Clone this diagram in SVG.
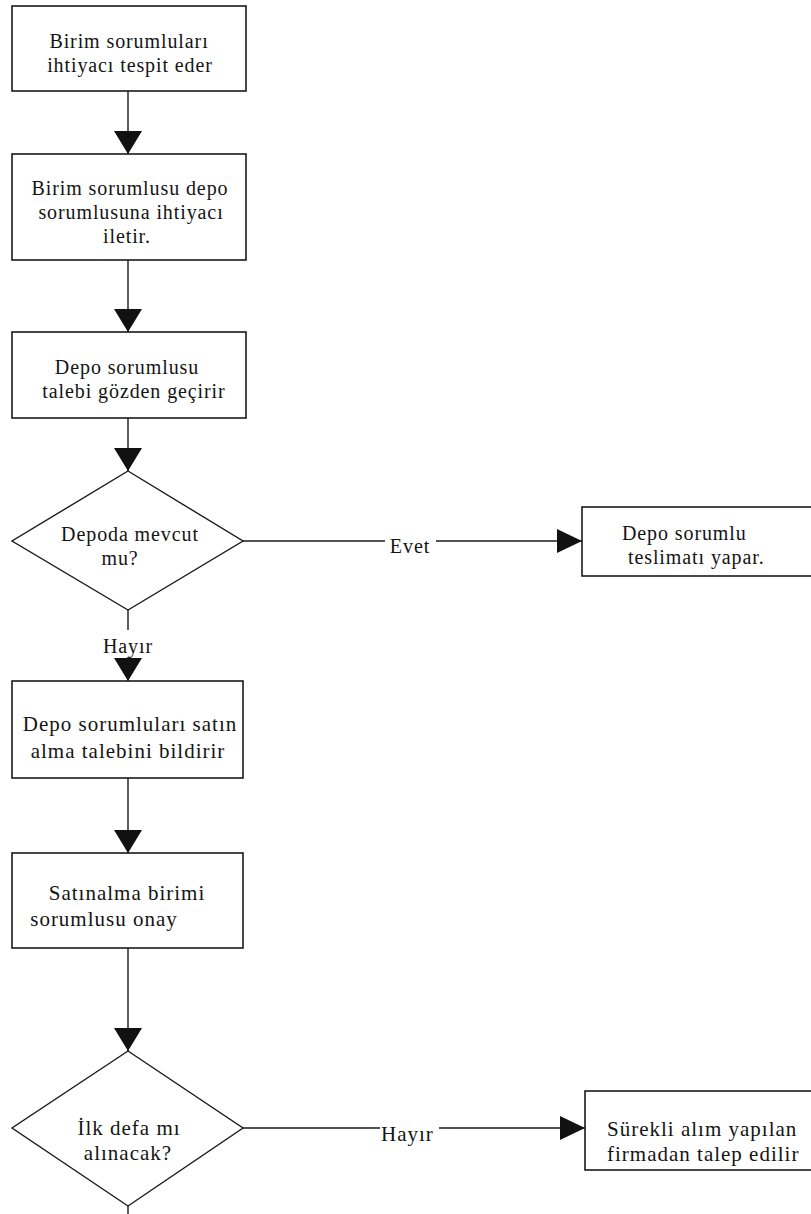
<svg xmlns="http://www.w3.org/2000/svg" width="811" height="1214" viewBox="0 0 811 1214" font-family="'Liberation Serif', 'Times New Roman', serif">
<style>
  .box { fill: #ffffff; stroke: #1a1a1a; stroke-width: 1.6; }
  .dia { fill: #ffffff; stroke: #1a1a1a; stroke-width: 1.4; }
  .con { fill: none; stroke: #1a1a1a; stroke-width: 1.4; }
  .lbg { fill: #ffffff; stroke: none; }
  text { font-family: "Liberation Serif", "Times New Roman", serif; font-size: 20px; letter-spacing: 0.9px; fill: #141414; }
  .c { text-anchor: middle; }
  .big { font-size: 21px; letter-spacing: 1px; }
</style>
<defs>
  <marker id="arrowV" viewBox="0 0 10 10" refX="10" refY="5" markerUnits="userSpaceOnUse" markerWidth="23" markerHeight="28" preserveAspectRatio="none" orient="auto">
    <path d="M0,0 L10,5 L0,10 Z" fill="#111111"/>
  </marker>
  <marker id="arrowH" viewBox="0 0 10 10" refX="10" refY="5" markerUnits="userSpaceOnUse" markerWidth="25" markerHeight="24" preserveAspectRatio="none" orient="auto">
    <path d="M0,0 L10,5 L0,10 Z" fill="#111111"/>
  </marker>
</defs>
<rect x="0" y="0" width="811" height="1214" fill="#ffffff"/>

<g id="connectors">
  <line class="con" x1="128" y1="91" x2="128" y2="154" marker-end="url(#arrowV)"/>
  <line class="con" x1="128" y1="260" x2="128" y2="332" marker-end="url(#arrowV)"/>
  <line class="con" x1="128" y1="418" x2="128" y2="471" marker-end="url(#arrowV)"/>
  <line class="con" x1="243" y1="541" x2="582" y2="541" marker-end="url(#arrowH)"/>
  <line class="con" x1="128" y1="610" x2="128" y2="681" marker-end="url(#arrowV)"/>
  <line class="con" x1="128" y1="778" x2="128" y2="853" marker-end="url(#arrowV)"/>
  <line class="con" x1="128" y1="948" x2="128" y2="1051" marker-end="url(#arrowV)"/>
  <line class="con" x1="243" y1="1128" x2="585" y2="1128" marker-end="url(#arrowH)"/>
  <line class="con" x1="128" y1="1206" x2="128" y2="1214"/>
  <g id="label-evet">
    <rect class="lbg" x="385" y="534" width="51" height="22"/>
    <text class="c" x="410" y="553">Evet</text>
  </g>
  <g id="label-hayir1">
    <rect class="lbg" x="100" y="630" width="56" height="27"/>
    <text class="c" x="128" y="653">Hayır</text>
  </g>
  <g id="label-hayir2">
    <rect class="lbg" x="380" y="1119" width="59" height="27"/>
    <text class="big" x="381" y="1141">Hayır</text>
  </g>
</g>

<g id="n1">
  <rect class="box" x="12" y="6" width="234" height="85"/>
  <text class="c" x="129" y="48">Birim sorumluları</text>
  <text class="c" x="130" y="72">ihtiyacı tespit eder</text>
</g>

<g id="n2">
  <rect class="box" x="12" y="154" width="234" height="106"/>
  <text class="c" x="130" y="195">Birim sorumlusu depo</text>
  <text class="c" x="131" y="219">sorumlusuna ihtiyacı</text>
  <text class="c" x="127" y="243">iletir.</text>
</g>

<g id="n3">
  <rect class="box" x="12" y="332" width="234" height="86"/>
  <text class="c" x="127" y="374">Depo sorumlusu</text>
  <text class="c" x="134" y="398">talebi gözden geçirir</text>
</g>

<g id="d1">
  <polygon class="dia" points="128,471 243,541 128,610 12,541"/>
  <text class="c" x="130" y="541">Depoda mevcut</text>
  <text class="c" x="120" y="565">mu?</text>
</g>

<g id="n-teslimat">
  <rect class="box" x="582" y="507" width="240" height="69"/>
  <text x="622" y="540">Depo sorumlu</text>
  <text x="628" y="564">teslimatı yapar.</text>
</g>

<g id="n4">
  <rect class="box" x="12" y="681" width="231" height="97"/>
  <text class="c big" x="130" y="731">Depo sorumluları satın</text>
  <text class="c big" x="128" y="758">alma talebini bildirir</text>
</g>

<g id="n5">
  <rect class="box" x="12" y="853" width="231" height="95"/>
  <text class="c big" x="127" y="900">Satınalma birimi</text>
  <text class="c big" x="104" y="926">sorumlusu onay</text>
</g>

<g id="d2">
  <polygon class="dia" points="128,1051 243,1128 128,1206 12,1128"/>
  <text class="c big" x="129" y="1135">İlk defa mı</text>
  <text class="c big" x="128" y="1160">alınacak?</text>
</g>

<g id="n-surekli">
  <rect class="box" x="585" y="1091" width="240" height="79"/>
  <text class="big" x="607" y="1136">Sürekli alım yapılan</text>
  <text class="big" x="607" y="1161">firmadan talep edilir</text>
</g>
</svg>
